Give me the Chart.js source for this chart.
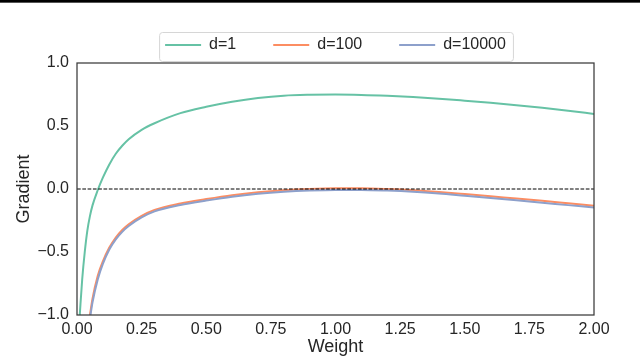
<!DOCTYPE html>
<html>
<head>
<meta charset="utf-8">
<script src="https://cdn.jsdelivr.net/npm/chart.js@4.4.1/dist/chart.umd.min.js"></script>
<style>
  body { margin: 0; background: #fff; }
  .wrap { position: relative; width: 640px; height: 358px; }
  .topbar { position: absolute; left: 0; top: 0; width: 640px; height: 2px; background: #000; border-bottom: 1px solid #555; }
</style>
</head>
<body>
<div class="wrap">
  <canvas id="gradChart" width="640" height="358"></canvas>
  <div class="topbar"></div>
</div>
<script>
const weights = [0.01, 0.02, 0.03, 0.04, 0.05, 0.06, 0.08, 0.10, 0.125, 0.15, 0.175, 0.2, 0.25, 0.3, 0.4, 0.5,
  0.6, 0.7, 0.8, 0.9, 1.0, 1.1, 1.2, 1.3, 1.4, 1.5, 1.6, 1.7, 1.8, 1.9, 2.0];

const gradD1 = [-1.02, -0.72, -0.50, -0.33, -0.215, -0.13, -0.01, 0.09, 0.195, 0.28, 0.343, 0.395, 0.47, 0.522, 0.602, 0.652,
  0.692, 0.722, 0.741, 0.748, 0.750, 0.747, 0.740, 0.730, 0.717, 0.701, 0.684, 0.665, 0.644, 0.621, 0.596];

const gradD100 = [null, null, null, null, -1.0, -0.87, -0.69, -0.575, -0.465, -0.385, -0.325, -0.28, -0.213, -0.166, -0.115, -0.08,
  -0.049, -0.026, -0.01, 0.0, 0.005, 0.005, 0.0, -0.009, -0.023, -0.04, -0.058, -0.076, -0.094, -0.113, -0.132];

const gradD10000 = [null, null, null, null, -1.03, -0.90, -0.72, -0.595, -0.48, -0.40, -0.34, -0.294, -0.226, -0.178, -0.127, -0.092,
  -0.061, -0.038, -0.022, -0.012, -0.007, -0.007, -0.012, -0.021, -0.035, -0.053, -0.071, -0.09, -0.109, -0.128, -0.147];

const zeroLineX = [0, 2];
const zeroLineY = [0, 0];

const seriesLabels = ["d=1", "d=100", "d=10000"];
const seriesColors = ["#66c2a5", "#fc8d62", "#8da0cb"];

const xTicks = [0, 0.25, 0.5, 0.75, 1.0, 1.25, 1.5, 1.75, 2.0];
const yTicks = [-1, -0.5, 0, 0.5, 1];

Chart.defaults.font.family = "'Liberation Sans', Arial, sans-serif";
Chart.defaults.color = "#262626";

function pts(xs, ys) {
    return xs.map((x, i) => ({ x: x, y: ys[i] }));
}

const framePlugin = {
    id: "frame",
    afterDatasetsDraw(chart) {
        const { ctx, chartArea: a } = chart;
        ctx.save();
        ctx.strokeStyle = "#3a3a3a";
        ctx.lineWidth = 1.25;
        ctx.strokeRect(a.left, a.top, a.right - a.left, a.bottom - a.top);
        ctx.restore();
    }
};

const legendFrame = {
    id: "legendFrame",
    afterDraw(chart) {
        const boxes = chart.legend.legendHitBoxes;
        if (!boxes || !boxes.length) return;
        const first = boxes[0];
        const last = boxes[boxes.length - 1];
        const x0 = first.left - 6;
        const x1 = last.left + last.width + 7;
        const y0 = first.top - 5;
        const y1 = first.top + first.height + 8;
        const ctx = chart.ctx;
        ctx.save();
        ctx.strokeStyle = "#d6d6d6";
        ctx.lineWidth = 1;
        ctx.beginPath();
        ctx.roundRect(x0 + 0.5, y0 + 0.5, x1 - x0, y1 - y0, 3);
        ctx.stroke();
        ctx.restore();
    }
};

const lineSeries = [gradD1, gradD100, gradD10000].map((vals, i) => ({
    label: seriesLabels[i],
    data: pts(weights, vals),
    borderColor: seriesColors[i],
    backgroundColor: seriesColors[i],
    borderWidth: 2,
    pointRadius: 0,
    cubicInterpolationMode: "monotone",
    order: 3 - i
}));

new Chart(document.getElementById("gradChart"), {
    type: "line",
    data: {
        datasets: [
            ...lineSeries,
            {
                label: "",
                data: pts(zeroLineX, zeroLineY),
                borderColor: "#000",
                borderWidth: 1,
                borderDash: [3.7, 1.6],
                pointRadius: 0,
                order: 0
            }
        ]
    },
    options: {
        responsive: false,
        animation: false,
        layout: {
            padding: { left: 0, right: 46, top: 0, bottom: 0 }
        },
        plugins: {
            tooltip: { enabled: false },
            legend: {
                position: "top",
                fullSize: false,
                labels: {
                    usePointStyle: true,
                    pointStyle: "line",
                    pointStyleWidth: 36,
                    boxHeight: 16,
                    padding: 37,
                    color: "#262626",
                    font: { size: 16 },
                    filter: item => item.datasetIndex < 3,
                    sort: (a, b) => a.datasetIndex - b.datasetIndex
                }
            }
        },
        scales: {
            x: {
                type: "linear",
                min: 0,
                max: 2,
                afterFit: s => { s.height = 43; },
                afterBuildTicks: s => { s.ticks = xTicks.map(v => ({ value: v })); },
                grid: { display: false, drawTicks: false },
                border: { display: false },
                ticks: {
                    padding: 5,
                    maxRotation: 0,
                    font: { size: 16 },
                    callback: v => v.toFixed(2)
                },
                title: {
                    display: true,
                    text: "Weight",
                    font: { size: 18 },
                    padding: { top: 0, bottom: 0 }
                }
            },
            y: {
                min: -1,
                max: 1,
                afterFit: s => { s.width = 77; },
                afterBuildTicks: s => { s.ticks = yTicks.map(v => ({ value: v })); },
                grid: { display: false, drawTicks: false },
                border: { display: false },
                ticks: {
                    padding: 8,
                    font: { size: 16 },
                    callback: v => v.toFixed(1).replace("-", "\u2212")
                },
                title: {
                    display: true,
                    text: "Gradient",
                    font: { size: 18 },
                    padding: { top: 13, bottom: 0 }
                }
            }
        }
    },
    plugins: [framePlugin, legendFrame]
});
</script>
</body>
</html>
